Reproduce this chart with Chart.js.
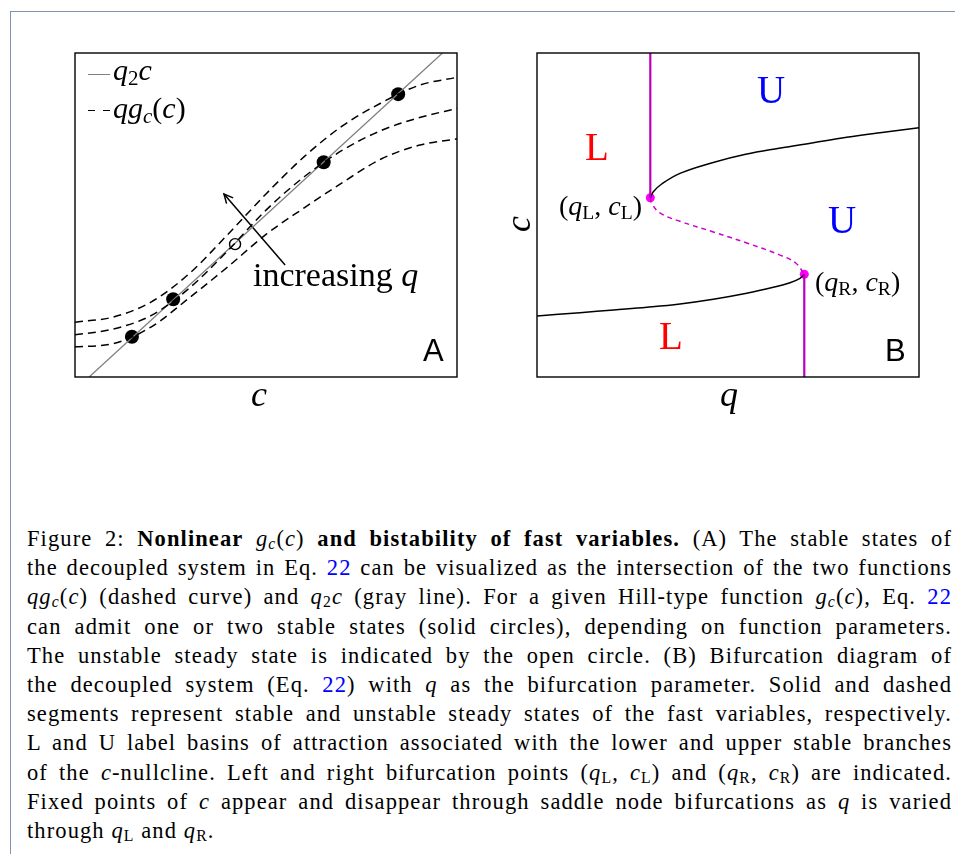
<!DOCTYPE html>
<html>
<head>
<meta charset="utf-8">
<script src="https://cdn.jsdelivr.net/npm/chart.js@4.4.1/dist/chart.umd.min.js"></script>
<style>
    html, body { margin: 0; padding: 0; background: #fff; }
    body { width: 955px; height: 854px; position: relative; overflow: hidden; font-family: 'Liberation Serif', serif; color: #000; }
    #frame { position: absolute; left: 10px; top: 11px; width: 980px; height: 900px; border-top: 1.5px solid #8194ad; border-left: 1.5px solid #8194ad; }
    canvas.panel { position: absolute; }
    .t { position: absolute; white-space: nowrap; line-height: 1; }
    .i { font-style: italic; }
    .sb { font-size: 70%; vertical-align: -0.22em; line-height: 0; }
    .sans { font-family: 'Liberation Sans', sans-serif; }
    .key { position: absolute; height: 0; }
    #caption { position: absolute; left: 27px; top: 524px; width: 925px; font-size: 22.5px; letter-spacing: 1.1px; }
    #caption div { height: 29.2px; line-height: 29.2px; text-align: justify; text-align-last: justify; }
    #caption div.last { text-align-last: left; }
    #caption a { color: #0000ff; text-decoration: none; }
</style>
</head>
<body>
<div id="frame"></div>

<canvas id="chartA" class="panel" width="422" height="364" style="left:55px;top:33px"></canvas>
<canvas id="chartB" class="panel" width="422" height="364" style="left:517px;top:33px"></canvas>

<!-- panel A labels -->
<div class="key" style="left:88px;top:74px;width:22px;border-top:1.4px solid #808080"></div>
<div class="key" style="left:88px;top:110px;width:7px;border-top:1.4px solid #000"></div>
<div class="key" style="left:103px;top:110px;width:7px;border-top:1.4px solid #000"></div>
<div class="t i" style="left:113px;top:55px;font-size:30px">q<span class="sb" style="font-style:normal">2</span>c</div>
<div class="t" style="left:113px;top:93px;font-size:30px"><span class="i">qg<span class="sb">c</span></span>(<span class="i">c</span>)</div>
<div class="t" style="left:253px;top:258px;font-size:34px">increasing <span class="i">q</span></div>
<div class="t sans" style="left:423px;top:335px;font-size:31px">A</div>
<div class="t i" style="left:251px;top:376px;font-size:36px">c</div>

<!-- panel B labels -->
<div class="t" style="left:757px;top:70px;font-size:39px;color:#0000ff">U</div>
<div class="t" style="left:828px;top:200px;font-size:39px;color:#0000ff">U</div>
<div class="t" style="left:585px;top:127px;font-size:39px;color:#ff0000">L</div>
<div class="t" style="left:659px;top:316px;font-size:39px;color:#ff0000">L</div>
<div class="t" style="left:559px;top:192px;font-size:28px">(<span class="i">q</span><span class="sb">L</span>, <span class="i">c</span><span class="sb">L</span>)</div>
<div class="t" style="left:815px;top:268px;font-size:28px">(<span class="i">q</span><span class="sb">R</span>, <span class="i">c</span><span class="sb">R</span>)</div>
<div class="t sans" style="left:885px;top:335px;font-size:31px">B</div>
<div class="t i" style="left:720px;top:376px;font-size:36px">q</div>
<div class="t i" style="left:500px;top:200px;font-size:36px;transform:rotate(-90deg);transform-origin:16px 16px">c</div>

<div id="caption">
    <div>Figure 2: <b>Nonlinear</b> <span class="i">g<span class="sb">c</span></span>(<span class="i">c</span>) <b>and bistability of fast variables.</b> (A) The stable states of</div>
    <div>the decoupled system in Eq. <a>22</a> can be visualized as the intersection of the two functions</div>
    <div><span class="i">qg<span class="sb">c</span></span>(<span class="i">c</span>) (dashed curve) and <span class="i">q</span><span class="sb">2</span><span class="i">c</span> (gray line). For a given Hill-type function <span class="i">g<span class="sb">c</span></span>(<span class="i">c</span>), Eq. <a>22</a></div>
    <div>can admit one or two stable states (solid circles), depending on function parameters.</div>
    <div>The unstable steady state is indicated by the open circle. (B) Bifurcation diagram of</div>
    <div>the decoupled system (Eq. <a>22</a>) with <span class="i">q</span> as the bifurcation parameter. Solid and dashed</div>
    <div>segments represent stable and unstable steady states of the fast variables, respectively.</div>
    <div>L and U label basins of attraction associated with the lower and upper stable branches</div>
    <div>of the <span class="i">c</span>-nullcline. Left and right bifurcation points (<span class="i">q</span><span class="sb">L</span>, <span class="i">c</span><span class="sb">L</span>) and (<span class="i">q</span><span class="sb">R</span>, <span class="i">c</span><span class="sb">R</span>) are indicated.</div>
    <div>Fixed points of <span class="i">c</span> appear and disappear through saddle node bifurcations as <span class="i">q</span> is varied</div>
    <div class="last">through <span class="i">q</span><span class="sb">L</span> and <span class="i">q</span><span class="sb">R</span>.</div>
</div>

<script>
// Panel A: q*g_c(c) for three values of q against the line q2*c (both axes scaled 0..1)
var cGrid = [0, 0.1, 0.2, 0.3, 0.4, 0.5, 0.6, 0.7, 0.8, 0.9, 1.0];
var gLowQ = [0.093, 0.103, 0.155, 0.245, 0.340, 0.440, 0.522, 0.600, 0.672, 0.715, 0.735];
var gMidQ = [0.130, 0.148, 0.190, 0.275, 0.390, 0.515, 0.618, 0.700, 0.760, 0.800, 0.829];
var gHighQ = [0.169, 0.185, 0.232, 0.320, 0.440, 0.565, 0.680, 0.775, 0.845, 0.900, 0.925];

var decayC = [0.037, 0.962];
var decayY = [0, 1];

var stableC = [0.149, 0.257, 0.651, 0.846];
var stableY = [0.124, 0.240, 0.663, 0.873];
var unstableC = [0.419];
var unstableY = [0.410];

// "increasing q" arrow, tail then tip
var arrowC = [0.550, 0.390];
var arrowY = [0.346, 0.565];

// Panel B: c-nullcline over q (both axes scaled 0..1)
var upperQ = [0.2966, 0.3045, 0.3264, 0.3743, 0.4589, 0.5463, 0.6335, 0.7233, 0.8107, 0.8979, 1.0];
var upperC = [0.5534, 0.5719, 0.5957, 0.6286, 0.6614, 0.6873, 0.7059, 0.7231, 0.7398, 0.7540, 0.7694];
var middleQ = [0.2966, 0.3002, 0.3220, 0.3743, 0.4615, 0.5489, 0.6335, 0.6771, 0.6997];
var middleC = [0.5534, 0.5360, 0.5062, 0.4805, 0.4478, 0.4138, 0.3776, 0.3519, 0.3170];
var lowerQ = [0, 0.1126, 0.2007, 0.2880, 0.3743, 0.4615, 0.5489, 0.6186, 0.6623, 0.6885, 0.6997];
var lowerC = [0.1883, 0.1985, 0.2068, 0.2151, 0.2253, 0.2398, 0.2583, 0.2768, 0.2910, 0.3046, 0.3170];

var foldQ = [0.2966, 0.6997];
var foldC = [0.5534, 0.3170];

var juntar = function (xs, ys) {
    return xs.map(function (x, i) { return { x: x, y: ys[i] }; });
};

var borderPlugin = {
    id: 'panelBorder',
    afterDraw: function (chart) {
        var a = chart.chartArea;
        var ctx = chart.ctx;
        ctx.save();
        ctx.strokeStyle = '#000';
        ctx.lineWidth = 1.4;
        ctx.strokeRect(a.left, a.top, a.right - a.left, a.bottom - a.top);
        ctx.restore();
    }
};

var arrowPlugin = {
    id: 'arrowHead',
    afterDatasetsDraw: function (chart) {
        var idx = chart.data.datasets.findIndex(function (d) { return d.arrow; });
        if (idx < 0) return;
        var pts = chart.getDatasetMeta(idx).data;
        var p0 = pts[0], p1 = pts[1];
        var ang = Math.atan2(p1.y - p0.y, p1.x - p0.x);
        var len = 10;
        var ctx = chart.ctx;
        ctx.save();
        ctx.strokeStyle = '#000';
        ctx.lineWidth = 1.5;
        ctx.beginPath();
        ctx.moveTo(p1.x - len * Math.cos(ang - 0.45), p1.y - len * Math.sin(ang - 0.45));
        ctx.lineTo(p1.x, p1.y);
        ctx.lineTo(p1.x - len * Math.cos(ang + 0.45), p1.y - len * Math.sin(ang + 0.45));
        ctx.stroke();
        ctx.restore();
    }
};

var eixos = {
    x: { type: 'linear', min: 0, max: 1, display: false },
    y: { type: 'linear', min: 0, max: 1, display: false }
};

var opcoes = {
    responsive: false,
    animation: false,
    events: [],
    layout: { padding: 20 },
    scales: eixos,
    plugins: { legend: { display: false }, tooltip: { enabled: false } }
};

var curva = function (xs, ys, extra) {
    var d = {
        type: 'line',
        data: juntar(xs, ys),
        showLine: true,
        pointRadius: 0,
        fill: false,
        borderColor: '#000',
        borderWidth: 1.5,
        cubicInterpolationMode: 'monotone'
    };
    for (var k in extra) d[k] = extra[k];
    return d;
};

new Chart(document.getElementById('chartA').getContext('2d'), {
    type: 'scatter',
    data: {
        datasets: [
            curva(cGrid, gLowQ, { borderDash: [8, 5] }),
            curva(cGrid, gMidQ, { borderDash: [8, 5] }),
            curva(cGrid, gHighQ, { borderDash: [8, 5] }),
            curva(decayC, decayY, { borderColor: '#808080', borderWidth: 1.3, cubicInterpolationMode: 'default' }),
            curva(arrowC, arrowY, { borderWidth: 1.5, arrow: true, cubicInterpolationMode: 'default' }),
            {
                data: juntar(stableC, stableY),
                pointRadius: 7,
                pointBackgroundColor: '#000',
                pointBorderColor: '#000',
                pointBorderWidth: 0
            },
            {
                data: juntar(unstableC, unstableY),
                pointRadius: 5.5,
                pointBackgroundColor: '#fff',
                pointBorderColor: '#000',
                pointBorderWidth: 1.4
            }
        ]
    },
    options: opcoes,
    plugins: [borderPlugin, arrowPlugin]
});

new Chart(document.getElementById('chartB').getContext('2d'), {
    type: 'scatter',
    data: {
        datasets: [
            curva([foldQ[0], foldQ[0]], [foldC[0], 1], { borderColor: '#bb00bb', borderWidth: 2.2, cubicInterpolationMode: 'default' }),
            curva([foldQ[1], foldQ[1]], [foldC[1], 0], { borderColor: '#bb00bb', borderWidth: 2.2, cubicInterpolationMode: 'default' }),
            curva(upperQ, upperC, { tension: 0.4, cubicInterpolationMode: 'default' }),
            curva(lowerQ, lowerC, { tension: 0.4, cubicInterpolationMode: 'default' }),
            curva(middleQ, middleC, { borderColor: '#cc00cc', borderDash: [5, 4], tension: 0.4, cubicInterpolationMode: 'default' }),
            {
                data: juntar(foldQ, foldC),
                pointRadius: 4.5,
                pointBackgroundColor: '#ff00ff',
                pointBorderColor: '#ff00ff',
                pointBorderWidth: 0
            }
        ]
    },
    options: opcoes,
    plugins: [borderPlugin]
});
</script>
</body>
</html>
